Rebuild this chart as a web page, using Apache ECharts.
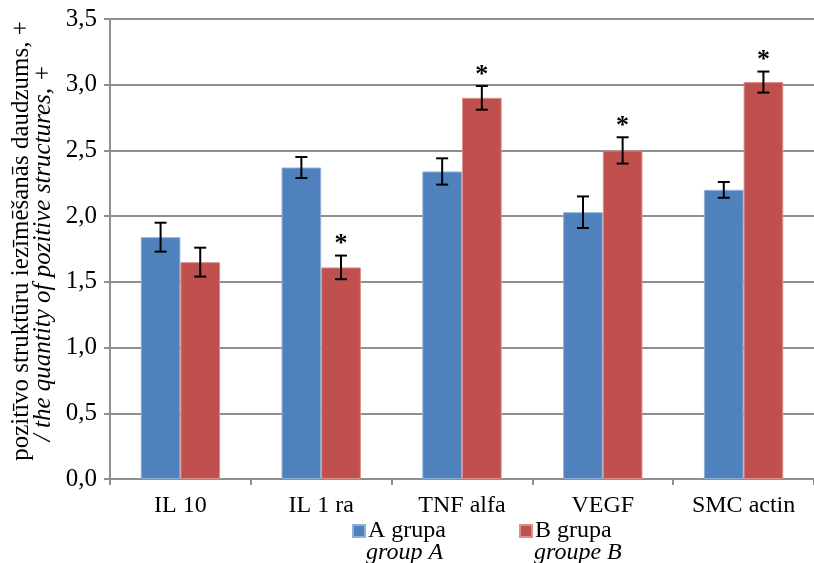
<!DOCTYPE html>
<html><head><meta charset="utf-8">
<script src="https://cdn.jsdelivr.net/npm/echarts@6/dist/echarts.min.js"></script>
<style>html,body{margin:0;padding:0;background:#fff}#c{width:814px;height:563px}</style>
</head><body><div id="c"></div>
<script>
const categories = ['IL 10', 'IL 1 ra', 'TNF alfa', 'VEGF', 'SMC actin'];
const groupA = [1.84, 2.37, 2.34, 2.03, 2.20];
const groupB = [1.65, 1.61, 2.90, 2.50, 3.02];
const errA = [0.11, 0.08, 0.10, 0.12, 0.06];
const errB = [0.11, 0.09, 0.09, 0.10, 0.08];
const starA = ['', '', '', '', ''];
const starB = ['', '*', '*', '*', '*'];
const seriesNames = ['A grupa', 'B grupa'];
const seriesSubNames = ['group A', 'groupe B'];
const yTitle1 = 'pozitīvo struktūru iezīmēšanās daudzums, +';
const yTitle2 = '/ the quantity of pozitive structures, +';

const FONT = '"Liberation Serif", "Times New Roman", serif';
const GRID_COLOR = '#8e8e8e';

function errRender(sign, errs, stars) {
  return function (params, api) {
    const i = api.value(0), v = api.value(1), e = errs[params.dataIndex];
    const band = api.size([1, 0])[0];
    const off = sign * band * 0.1408;
    const x = api.coord([i, v])[0] + off;
    const top = api.coord([i, v + e])[1];
    const bot = api.coord([i, v - e])[1];
    const hw = 6;
    const st = { stroke: '#000', lineWidth: 2 };
    const children = [
      { type: 'line', shape: { x1: x, y1: top, x2: x, y2: bot }, style: st },
      { type: 'line', shape: { x1: x - hw, y1: top, x2: x + hw, y2: top }, style: st },
      { type: 'line', shape: { x1: x - hw, y1: bot, x2: x + hw, y2: bot }, style: st }
    ];
    const s = stars[params.dataIndex];
    if (s) {
      children.push({ type: 'text', x: x, y: top - 11, style: { text: s, font: 'bold 26px ' + FONT, fill: '#000', align: 'center', verticalAlign: 'middle' } });
    }
    return { type: 'group', children: children };
  };
}

const chart = echarts.init(document.getElementById('c'));
chart.setOption({
  animation: false,
  backgroundColor: '#fff',
  grid: { left: 110, top: 19, width: 710, bottom: 84 },
  legend: [
    { data: [seriesNames[0]], left: 347, top: 514, icon: 'rect', itemWidth: 12, itemHeight: 12, itemGap: 0,
      textStyle: { fontFamily: FONT, fontSize: 24, color: '#000', padding: [0, 0, 0, -2] } },
    { data: [seriesNames[1]], left: 514, top: 514, icon: 'rect', itemWidth: 12, itemHeight: 12, itemGap: 0,
      textStyle: { fontFamily: FONT, fontSize: 24, color: '#000', padding: [0, 0, 0, -2] } }
  ],
  xAxis: {
    type: 'category', data: categories,
    axisLine: { lineStyle: { color: GRID_COLOR, width: 2 } },
    axisTick: { show: true, length: 6, lineStyle: { color: GRID_COLOR, width: 2 } },
    axisLabel: { fontFamily: FONT, fontSize: 24, color: '#000', margin: 15, interval: 0 }
  },
  yAxis: {
    type: 'value', min: 0, max: 3.5, interval: 0.5,
    axisLine: { show: true, lineStyle: { color: GRID_COLOR, width: 2 } },
    axisTick: { show: true, length: 6, lineStyle: { color: GRID_COLOR, width: 2 } },
    splitLine: { lineStyle: { color: GRID_COLOR, width: 2 } },
    axisLabel: { fontFamily: FONT, fontSize: 25, color: '#000', margin: 13,
      formatter: v => v.toFixed(1).replace('.', ',') }
  },
  series: [
    { name: seriesNames[0], type: 'bar', data: groupA, barWidth: '28.17%', barGap: '0%',
      itemStyle: { color: '#4F81BD', borderColor: '#8fb0d8', borderWidth: 1 } },
    { name: seriesNames[1], type: 'bar', data: groupB, barWidth: '28.17%', barGap: '0%',
      itemStyle: { color: '#C0504D', borderColor: '#d88f8d', borderWidth: 1 } },
    { type: 'custom', name: 'errA', renderItem: errRender(-1, errA, starA), z: 10,
      data: groupA.map((v, i) => [i, v]) },
    { type: 'custom', name: 'errB', renderItem: errRender(1, errB, starB), z: 10,
      data: groupB.map((v, i) => [i, v]) }
  ],
  graphic: [
    { type: 'text', x: 21, y: 241, rotation: Math.PI / 2,
      style: { text: yTitle1, font: '25px ' + FONT, fill: '#000', align: 'center', verticalAlign: 'middle' } },
    { type: 'text', x: 43, y: 253, rotation: Math.PI / 2,
      style: { text: yTitle2, font: 'italic 25px ' + FONT, fill: '#000', align: 'center', verticalAlign: 'middle' } },
    { type: 'text', x: 366, y: 553,
      style: { text: seriesSubNames[0], font: 'italic 24px ' + FONT, fill: '#000', align: 'left', verticalAlign: 'middle' } },
    { type: 'text', x: 534, y: 553,
      style: { text: seriesSubNames[1], font: 'italic 24px ' + FONT, fill: '#000', align: 'left', verticalAlign: 'middle' } }
  ]
});
</script></body></html>
